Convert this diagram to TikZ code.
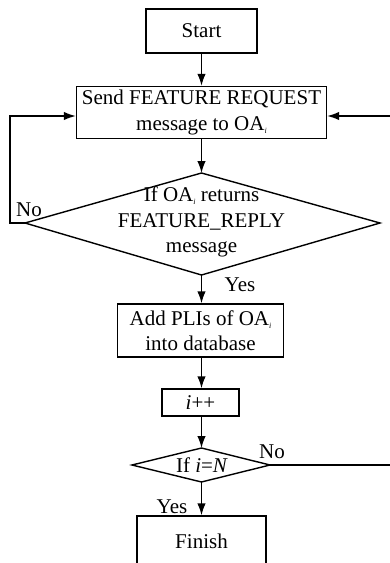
\documentclass[tikz,border=0pt]{standalone}
\usepackage{fontspec}
\setmainfont{Liberation Serif}
\usetikzlibrary{arrows.meta}

\tikzset{
  box/.style={draw, line width=1.4pt, inner sep=0pt, align=center},
  flow/.style={line width=1.4pt, -{Latex[length=12pt,width=8.5pt]}},
  link/.style={line width=1.4pt},
  lbl/.style={inner sep=0pt},
}
\newcommand{\oai}{OA\raisebox{-3pt}{\fontsize{8}{8}\selectfont\textit{i}}}

\begin{document}
\begin{tikzpicture}[x=1pt, y=-1pt, font=\fontsize{21}{25.5}\selectfont]

\useasboundingbox (0, 0) rectangle (389, 563);

% Boxes
\node[box, minimum width=111, minimum height=44] (start) at (201.5, 31) {Start};
\node[box, minimum width=250, minimum height=52] (send) at (201.5, 112.5)
  {Send FEATURE REQUEST\\message to \oai};
\node[box, minimum width=166, minimum height=53] (add) at (200.5, 330.5)
  {Add PLIs of \oai\\into database};
\node[box, minimum width=77, minimum height=27] (inc) at (200.5, 402.5) {\textit{i}++};
\node[box, minimum width=129, minimum height=50] (finish) at (201.5, 541) {Finish};

% Decision 1
\coordinate (q1n) at (201.5, 173);
\coordinate (q1s) at (201.5, 275);
\coordinate (q1w) at (25, 223);
\coordinate (q1e) at (380, 223);
\draw[link] (q1n) -- (q1e) -- (q1s) -- (q1w) -- cycle;
\node[lbl, align=center] (q1) at (201.5, 222)
  {If \oai\ returns\\FEATURE\_REPLY\\message};

% Decision 2
\coordinate (q2n) at (201.5, 448);
\coordinate (q2s) at (201.5, 482);
\coordinate (q2w) at (132, 465);
\coordinate (q2e) at (270, 465);
\draw[link] (q2n) -- (q2e) -- (q2s) -- (q2w) -- cycle;
\node[lbl] (q2) at (202, 465) {If \textit{i}=\textit{N}};

% Arrows
\draw[flow] (start) -- (send);
\draw[flow] (send) -- (q1n);
\draw[flow] (q1s) -- (q1s |- add.north);
\draw[flow] (add.south -| q1s) -- (q1s |- inc.north);
\draw[flow] (inc.south -| q1s) -- (q2n);
\draw[flow] (q2s) -- (finish);

% Loops
\coordinate (lft) at (10, 116);
\coordinate (rgt) at (396, 116);
\draw[flow] (q1w) -- (lft |- q1w) -- (lft) -- ([yshift=-3.5pt]send.west);
\draw[flow] (q2e) -- (rgt |- q2e) -- (rgt) -- ([yshift=-3.5pt]send.east);

% Labels
\node[lbl] (no1) at (29, 210) {No};
\node[lbl] (yes1) at (240, 285) {Yes};
\node[lbl] (no2) at (272, 452) {No};
\node[lbl] (yes2) at (172, 507) {Yes};

\end{tikzpicture}
\end{document}
